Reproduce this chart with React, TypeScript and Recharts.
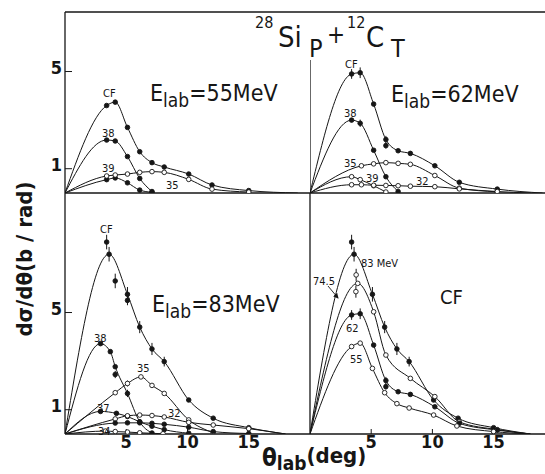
import React from 'react';
import { ComposedChart, Line, Scatter, XAxis, YAxis, ErrorBar } from 'recharts';

// [theta_lab (deg), dsigma/dtheta (b/rad), error]
type Pt = number[];

// E_lab = 55 MeV
const cf55: Pt[] = [[3.4, 3.6], [4.1, 3.74], [5.1, 2.7], [6.1, 1.7], [7.1, 1.25], [8.1, 1.07], [10.1, 0.78], [12, 0.33], [15, 0.1]];
const z38at55: Pt[] = [[3.4, 2.18], [4.1, 2.14], [5.1, 1.5], [6.1, 0.6], [7.1, 0.06]];
const z39at55: Pt[] = [[3.4, 0.55], [4.1, 0.62], [5.1, 0.42], [6.1, 0.12], [7.1, 0.03]];
const z35at55: Pt[] = [[3.4, 0.7], [4.1, 0.74], [5.1, 0.78], [6.1, 0.85], [7.1, 0.88], [8.1, 0.85], [10.1, 0.56], [12, 0.16], [15, 0.04]];

// E_lab = 62 MeV
const cf62: Pt[] = [[3.4, 4.9, 0.2], [4.1, 4.95, 0.22], [5.2, 3.66], [6.2, 2.2, 0.15], [7.2, 1.74], [8.2, 1.63], [10.2, 1.12], [12.2, 0.44], [15.3, 0.16, 0.06]];
const cf62extra: Pt[] = [[6.2, 1.95, 0.12]];
const z38at62: Pt[] = [[3.4, 3.0], [4.1, 2.87, 0.15], [5.2, 1.76], [6.2, 0.67], [7.2, 0.06]];
const z35at62: Pt[] = [[4.2, 1.12], [5.2, 1.2], [6.2, 1.25], [7.2, 1.22], [8.2, 1.18], [10.2, 0.72], [12.2, 0.2], [15.3, 0.05]];
const z39at62: Pt[] = [[3.4, 0.67, 0.08], [4.1, 0.55], [5.2, 0.3], [6.2, 0.04]];
const z32at62: Pt[] = [[3.4, 0.34], [4.2, 0.34], [5.2, 0.32], [6.2, 0.31], [7.2, 0.3], [8.2, 0.28], [10.2, 0.26], [12.2, 0.17], [15.3, 0.06]];

// E_lab = 83 MeV
const cf83: Pt[] = [[3.6, 7.4, 0.3], [5.1, 5.75, 0.3], [6.1, 4.4, 0.25], [7.1, 3.5, 0.25], [8.1, 2.98, 0.2], [10.1, 1.4], [12.1, 0.65], [15, 0.26, 0.05]];
const cf83extra: Pt[] = [[3.4, 7.9, 0.3], [4.1, 6.3, 0.3], [5.1, 5.5, 0.2]];
const z38at83: Pt[] = [[2.9, 3.72], [3.7, 3.39], [4.1, 2.77], [5.1, 1.67, 0.15], [6.1, 0.5], [7.1, 0.04]];
const z38at83extra: Pt[] = [[4.1, 2.45, 0.15]];
const z35at83: Pt[] = [[4.1, 1.7], [5.1, 2.08, 0.12], [6.2, 2.35], [7.1, 2.0], [8.1, 1.67], [10.1, 0.58], [12.1, 0.05]];
const z37at83: Pt[] = [[2.9, 0.93], [4.2, 0.85], [5.1, 0.72], [6.1, 0.5], [7.1, 0.32], [8.1, 0.18], [10.1, 0.03]];
const z32at83: Pt[] = [[4.1, 0.62], [5.1, 0.75], [6.1, 0.78], [7.1, 0.76], [8.1, 0.7], [10.1, 0.48], [12.1, 0.37], [15, 0.22]];
const z36at83: Pt[] = [[4.1, 0.45], [5.1, 0.46], [6.1, 0.46], [7.1, 0.44], [8.1, 0.4], [10.1, 0.28], [12.1, 0.1], [15, 0.02]];
const z34at83: Pt[] = [[3.3, 0.12], [4.1, 0.1], [5.1, 0.08], [6.1, 0.05], [8, 0.01]];

// E_lab = 74.5 MeV (CF only)
const cf745: Pt[] = [[3.9, 6.2], [5.2, 5.03], [6.2, 3.25], [8.2, 2.29], [10.2, 1.54], [12.2, 0.5], [15.3, 0.18]];
const cf745extra: Pt[] = [[3.77, 6.55, 0.25], [3.75, 5.86, 0.25]];

const xTicks = [5, 10, 15];
const yTicks = [1, 5];
const axisTop62 = 5.47; // the 62 MeV panel's ordinate stops below the title

const W = 545;
const H = 474;
const INK = '#161616';
const FONT = "'DejaVu Sans Condensed', 'DejaVu Sans', sans-serif";

type S = { pts: Pt[]; open?: boolean; end?: number; noLine?: boolean };

const xy = (p: Pt) => ({ x: p[0], y: p[1], err: p[2] ?? 0 });

const marker = (open?: boolean) => (p: any) => (
  <circle cx={p.cx} cy={p.cy} r={2.3} fill={open ? '#fff' : INK} stroke={INK} strokeWidth={0.9} />
);

const yTickLabel = (p: any) => (
  <text x={62} y={p.y + 2} textAnchor="end" fontSize={18} fontWeight="bold" fontFamily={FONT} fill={INK}>
    {p.payload.value}
  </text>
);

const xTickLabel = (p: any) => (
  <text x={p.x} y={448} textAnchor="middle" fontSize={18} fontWeight="bold" fontFamily={FONT} fill={INK}>
    {p.payload.value}
  </text>
);

function Panel({ m, xMax, yMax, series, left, bottom, topBorder, shortAxis }: any) {
  return (
    <div style={{ position: 'absolute', left: 0, top: 0 }}>
      <ComposedChart width={W} height={H} margin={m}>
        <XAxis
          xAxisId="b"
          type="number"
          dataKey="x"
          domain={[0, xMax]}
          ticks={xTicks}
          height={1}
          allowDataOverflow
          axisLine={{ stroke: INK, strokeWidth: 1.3 }}
          tickLine={{ stroke: INK }}
          tickSize={5}
          mirror={bottom}
          tick={bottom ? xTickLabel : false}
        />
        {topBorder && (
          <XAxis
            xAxisId="t"
            orientation="top"
            type="number"
            domain={[0, xMax]}
            ticks={xTicks}
            height={1}
            mirror
            tickSize={7}
            tick={false}
            axisLine={{ stroke: INK, strokeWidth: 1.3 }}
            tickLine={{ stroke: INK }}
          />
        )}
        <YAxis
          type="number"
          dataKey="y"
          domain={[0, yMax]}
          ticks={yTicks}
          width={1}
          allowDataOverflow
          mirror={left}
          tickSize={left ? 7 : 4}
          tick={left ? yTickLabel : false}
          tickLine={{ stroke: INK }}
          axisLine={shortAxis ? { stroke: 'transparent' } : { stroke: INK, strokeWidth: 1.3 }}
        />
        {shortAxis && (
          <Line
            xAxisId="b"
            data={[{ x: 0, y: 0 }, { x: 0, y: shortAxis }]}
            dataKey="y"
            type="linear"
            dot={false}
            stroke={INK}
            strokeWidth={1.3}
            isAnimationActive={false}
          />
        )}
        {series
          .filter((s: S) => !s.noLine)
          .map((s: S, i: number) => (
            <Line
              key={'l' + i}
              xAxisId="b"
              data={[{ x: 0, y: 0 }, ...s.pts.map(xy), ...(s.end ? [{ x: s.end, y: 0 }] : [])]}
              dataKey="y"
              type="monotone"
              dot={false}
              stroke={INK}
              strokeWidth={1}
              isAnimationActive={false}
            />
          ))}
        {series.map((s: S, i: number) => (
          <Scatter
            key={'s' + i}
            xAxisId="b"
            data={s.pts.map(xy)}
            dataKey="y"
            shape={marker(s.open)}
            isAnimationActive={false}
          >
            <ErrorBar dataKey="err" direction="y" width={0} stroke={INK} strokeWidth={1} />
          </Scatter>
        ))}
      </ComposedChart>
    </div>
  );
}

function ELab({ x, y, v }: { x: number; y: number; v: string }) {
  return (
    <text x={x} y={y} fontSize={23} fill={INK}>
      E<tspan fontSize={19} dy={6}>lab</tspan>
      <tspan fontSize={23} dy={-6}>={v}MeV</tspan>
    </text>
  );
}

const lbl = { fontSize: 11, fill: INK };

export default function App() {
  return (
    <div style={{ position: 'absolute', left: 0, top: 0, width: W, height: H, overflow: 'hidden', background: '#fff' }}>
      <Panel
        m={{ top: 12, left: 65, right: 235, bottom: 280 }}
        xMax={20}
        yMax={7.45}
        left
        topBorder
        series={[
          { pts: cf55, end: 19 },
          { pts: z38at55 },
          { pts: z39at55 },
          { pts: z35at55, open: true },
        ]}
      />
      <Panel
        m={{ top: 12, left: 309, right: 0, bottom: 280 }}
        xMax={19.2}
        yMax={7.45}
        topBorder
        shortAxis={axisTop62}
        series={[
          { pts: cf62, end: 19 },
          { pts: cf62extra, noLine: true },
          { pts: z38at62 },
          { pts: z35at62, open: true },
          { pts: z39at62, open: true },
          { pts: z32at62, open: true, end: 18 },
        ]}
      />
      <Panel
        m={{ top: 193, left: 65, right: 235, bottom: 40 }}
        xMax={20}
        yMax={9.92}
        left
        bottom
        series={[
          { pts: cf83, end: 18 },
          { pts: cf83extra, noLine: true },
          { pts: z38at83 },
          { pts: z38at83extra, noLine: true },
          { pts: z35at83, open: true },
          { pts: z37at83 },
          { pts: z32at83, open: true, end: 18 },
          { pts: z36at83 },
          { pts: z34at83, open: true },
        ]}
      />
      <Panel
        m={{ top: 193, left: 309, right: 0, bottom: 40 }}
        xMax={19.2}
        yMax={9.92}
        bottom
        series={[
          { pts: cf83, end: 18 },
          { pts: cf83extra.slice(0, 1), noLine: true },
          { pts: cf745, open: true, end: 18 },
          { pts: cf745extra, open: true, noLine: true },
          { pts: cf62, end: 18 },
          { pts: cf62extra, noLine: true },
          { pts: cf55, open: true, end: 18 },
        ]}
      />
      <svg width={W} height={H} style={{ position: 'absolute', left: 0, top: 0 }} fontFamily={FONT}>
        <defs>
          <marker id="ah" markerWidth="6" markerHeight="6" refX="5" refY="3" orient="auto">
            <path d="M0,0 L6,3 L0,6 z" fill={INK} />
          </marker>
        </defs>
        {/* title */}
        <g fill={INK}>
          <text x={255} y={28} fontSize={16}>28</text>
          <text x={278} y={47} fontSize={29}>Si</text>
          <text x={309} y={57} fontSize={25}>P</text>
          <text x={327} y={43} fontSize={24}>+</text>
          <text x={347} y={28} fontSize={16}>12</text>
          <text x={366} y={47} fontSize={29}>C</text>
          <text x={391} y={57} fontSize={25}>T</text>
        </g>
        {/* axis titles */}
        <text transform="translate(32,259) rotate(-90)" textAnchor="middle" fontSize={22} fontWeight="bold" fill={INK}>
          dσ/dθ(b / rad)
        </text>
        <text x={262} y={466} fontSize={24} fontWeight="bold" fill={INK}>
          θ<tspan fontSize={19} dy={4}>lab</tspan>
          <tspan fontSize={22} dy={-7}>(deg)</tspan>
        </text>
        <ELab x={150} y={101} v="55" />
        <ELab x={391} y={102} v="62" />
        <ELab x={152} y={312} v="83" />
        <text x={440} y={304} fontSize={20} fill={INK}>CF</text>
        {/* curve labels */}
        <g {...lbl}>
          <text x={103} y={97}>CF</text>
          <text x={102} y={137}>38</text>
          <text x={102} y={172}>39</text>
          <text x={166} y={189}>35</text>
          <text x={345} y={68}>CF</text>
          <text x={344} y={117}>38</text>
          <text x={344} y={167}>35</text>
          <text x={366} y={182}>39</text>
          <text x={416} y={185}>32</text>
          <text x={100} y={233}>CF</text>
          <text x={94} y={342}>38</text>
          <text x={137} y={372}>35</text>
          <text x={97} y={412}>37</text>
          <text x={168} y={417}>32</text>
          <text x={98} y={435}>34</text>
          <text x={361} y={267}>83 MeV</text>
          <text x={313} y={285}>74.5</text>
          <text x={346} y={332}>62</text>
          <text x={350} y={363}>55</text>
        </g>
        <line x1={328} y1={286} x2={338} y2={298} stroke={INK} strokeWidth={0.9} markerEnd="url(#ah)" />
      </svg>
    </div>
  );
}
